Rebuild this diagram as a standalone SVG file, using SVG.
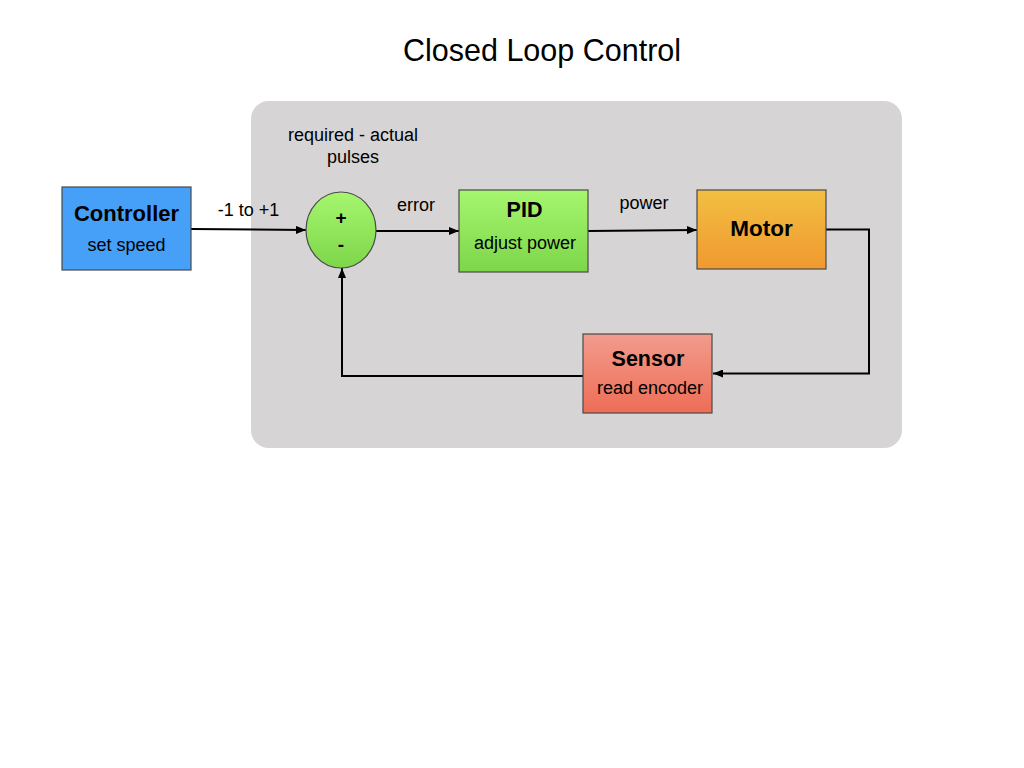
<svg xmlns="http://www.w3.org/2000/svg" width="1024" height="768" viewBox="0 0 1024 768">
<style>
text{font-family:"Liberation Sans",Arial,sans-serif;fill:#000;text-anchor:middle}
.b{font-weight:bold}
.box{stroke:#4a4a4a;stroke-width:1.2}
.ln{fill:none;stroke:#000;stroke-width:2}
</style>
<defs>
<marker id="ah" markerWidth="10" markerHeight="8" refX="10" refY="4" orient="auto" markerUnits="userSpaceOnUse">
<path d="M0,0 L10,4 L0,8 Z" fill="#000"/>
</marker>
<linearGradient id="gG" x1="0" y1="0" x2="0" y2="1"><stop offset="0" stop-color="#a6f66e"/><stop offset="1" stop-color="#7dd64a"/></linearGradient>
<linearGradient id="gO" x1="0" y1="0" x2="0" y2="1"><stop offset="0" stop-color="#f2bf42"/><stop offset="1" stop-color="#f0992f"/></linearGradient>
<linearGradient id="gR" x1="0" y1="0" x2="0" y2="1"><stop offset="0" stop-color="#f29b8d"/><stop offset="1" stop-color="#ee6d56"/></linearGradient>
</defs>
<rect width="1024" height="768" fill="#fff"/>
<text x="542" y="61" font-size="30.5">Closed Loop Control</text>
<rect id="panel" x="251" y="101" width="651" height="347" rx="18" fill="#d6d4d5"/>
<g id="connectors">
<line class="ln" x1="191" y1="229" x2="306" y2="230" marker-end="url(#ah)"/>
<line class="ln" x1="376" y1="231" x2="459" y2="231" marker-end="url(#ah)"/>
<line class="ln" x1="588" y1="231" x2="697" y2="230" marker-end="url(#ah)"/>
<polyline class="ln" points="826,229.5 869,229.5 869,373.5 713,373.5" marker-end="url(#ah)"/>
<polyline class="ln" points="583,376 342,376 342,268" marker-end="url(#ah)"/>
</g>
<g id="labels">
<text x="248.5" y="216" font-size="18">-1 to +1</text>
<text x="353" y="141" font-size="18">required - actual</text>
<text x="353" y="163" font-size="18">pulses</text>
<text x="416" y="211" font-size="18">error</text>
<text x="644" y="209" font-size="18">power</text>
</g>
<g id="controller">
<rect class="box" x="62" y="187" width="129" height="83" fill="#47a0f7"/>
<text class="b" x="126.5" y="221" font-size="22">Controller</text>
<text x="126.5" y="251" font-size="18">set speed</text>
</g>
<g id="sum">
<ellipse class="box" cx="341" cy="230" rx="35" ry="38" fill="url(#gG)"/>
<text class="b" x="341" y="224" font-size="19">+</text>
<text class="b" x="341" y="251" font-size="19">-</text>
</g>
<g id="pid">
<rect class="box" x="459" y="190" width="129" height="82" fill="url(#gG)"/>
<text class="b" x="524.5" y="217" font-size="21.5">PID</text>
<text x="525" y="249" font-size="18">adjust power</text>
</g>
<g id="motor">
<rect class="box" x="697" y="190" width="129" height="79" fill="url(#gO)"/>
<text class="b" x="761.5" y="236" font-size="22.5">Motor</text>
</g>
<g id="sensor">
<rect class="box" x="583" y="334" width="129" height="79" fill="url(#gR)"/>
<text class="b" x="648" y="366" font-size="21.5">Sensor</text>
<text x="650" y="394" font-size="18">read encoder</text>
</g>
</svg>
